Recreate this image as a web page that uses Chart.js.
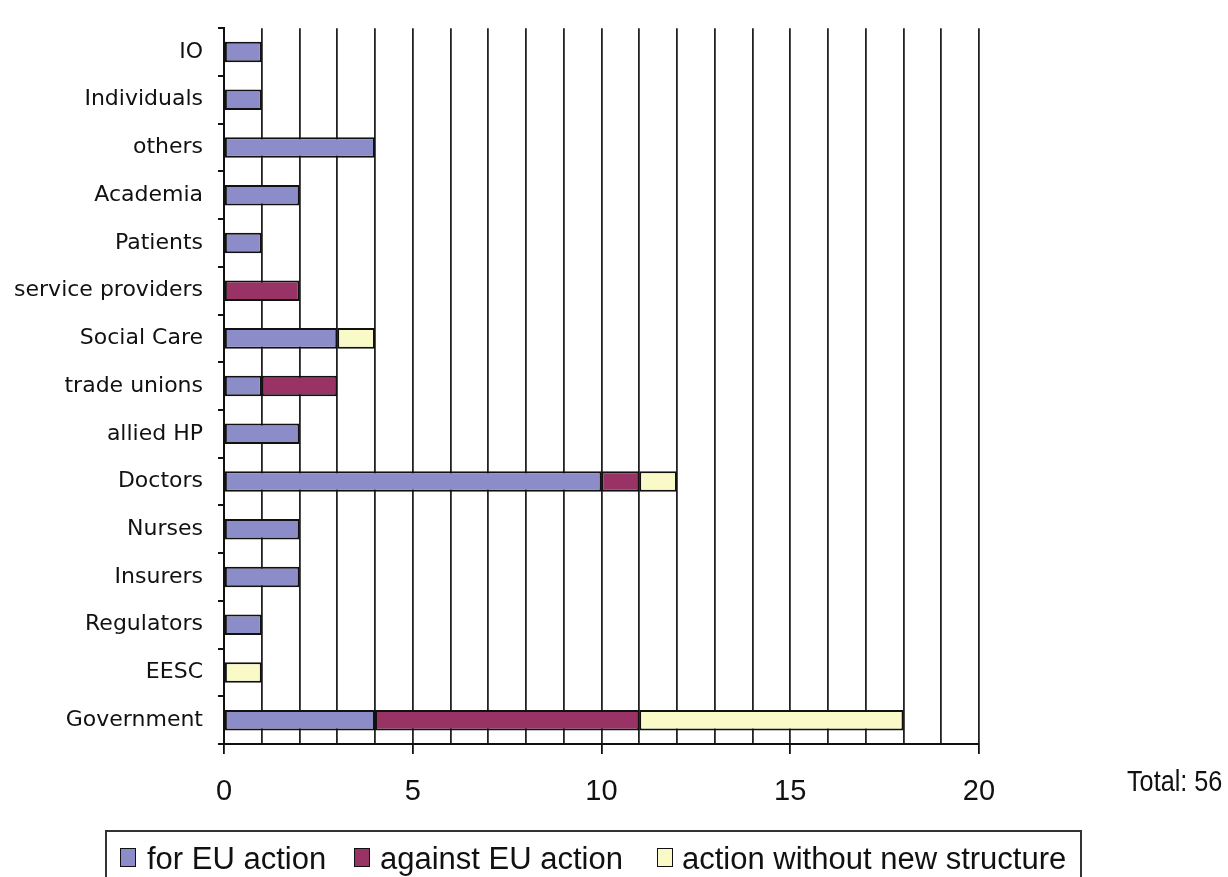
<!DOCTYPE html>
<html>
<head>
<meta charset="utf-8">
<title>Responses by stakeholder group</title>
<script src="https://cdn.jsdelivr.net/npm/chart.js@4/dist/chart.umd.min.js"></script>
<style>
  html, body { margin: 0; padding: 0; background: #fff; }
  body { width: 1228px; height: 877px; position: relative; overflow: hidden; }
  #chartWrap { position: absolute; left: 0; top: 0; width: 1228px; height: 877px; }
  .total {
    position: absolute; left: 1127px; top: 764px;
    font: 29px "Liberation Sans", Arial, sans-serif;
    color: #111; line-height: 34px; white-space: nowrap;
    transform: scaleX(0.87); transform-origin: left center;
  }
  .legend {
    position: absolute; left: 105px; top: 830px; width: 973px; height: 60px;
    border: 2px solid #333; border-bottom: none;
  }
  .legend .swatch {
    position: absolute; top: 16px; width: 14px; height: 17px;
    border: 1.5px solid #111;
  }
  .legend .label {
    position: absolute; top: 11px;
    font: 31px "Liberation Sans", Arial, sans-serif;
    color: #111; line-height: 31px; white-space: nowrap;
  }
</style>
</head>
<body>
<div id="chartWrap"><canvas id="stakeholderChart" width="1228" height="877"></canvas></div>
<div class="total">Total: 56</div>
<div class="legend" id="legend"></div>
<script>
const categories = ['IO', 'Individuals', 'others', 'Academia', 'Patients', 'service providers', 'Social Care',
  'trade unions', 'allied HP', 'Doctors', 'Nurses', 'Insurers', 'Regulators', 'EESC', 'Government'];
const forEuAction = [1, 1, 4, 2, 1, 0, 3, 1, 2, 10, 2, 2, 1, 0, 4];
const againstEuAction = [0, 0, 0, 0, 0, 2, 0, 2, 0, 1, 0, 0, 0, 0, 7];
const withoutNewStructure = [0, 0, 0, 0, 0, 0, 1, 0, 0, 1, 0, 0, 0, 1, 7];
const seriesNames = ['for EU action', 'against EU action', 'action without new structure'];
const seriesColors = ['#8c8cc8', '#993366', '#fafac8'];
const xMin = 0;
const xMax = 20;
const xStep = 1;
const labelEvery = 5;

function byId(id) {
  return document.getElementById(id);
}

function makeDataset(label, values, color) {
  return {
    label,
    // empty segments are left out so no zero-width outline is drawn
    data: values.map((v) => (v ? v : null)),
    backgroundColor: color,
    borderColor: '#111',
    borderWidth: 2,
    borderSkipped: false,
    categoryPercentage: 1,
    barPercentage: 0.43,
  };
}

function buildLegend() {
  const legend = byId('legend');
  const swatchLeft = [13, 247, 550];
  const textLeft = [40, 273, 575];
  seriesNames.forEach((name, i) => {
    const swatch = document.createElement('div');
    swatch.className = 'swatch';
    swatch.style.left = `${swatchLeft[i]}px`;
    swatch.style.background = seriesColors[i];
    legend.appendChild(swatch);

    const text = document.createElement('div');
    text.className = 'label';
    text.style.left = `${textLeft[i]}px`;
    text.textContent = name;
    legend.appendChild(text);
  });
}

function buildChart() {
  const canvas = byId('stakeholderChart');
  return new Chart(canvas, {
    type: 'bar',
    data: {
      labels: categories,
      datasets: [
        makeDataset(seriesNames[0], forEuAction, seriesColors[0]),
        makeDataset(seriesNames[1], againstEuAction, seriesColors[1]),
        makeDataset(seriesNames[2], withoutNewStructure, seriesColors[2]),
      ],
    },
    options: {
      indexAxis: 'y',
      responsive: false,
      animation: false,
      events: [],
      layout: {
        padding: { top: 17, right: 249, left: 0, bottom: 0 },
      },
      plugins: {
        legend: { display: false },
        tooltip: { enabled: false },
      },
      scales: {
        x: {
          stacked: true,
          min: xMin,
          max: xMax,
          afterFit: (scale) => {
            scale.height = 133;
          },
          border: { display: true, color: '#111', width: 2 },
          grid: {
            color: '#222',
            lineWidth: 1.8,
            tickLength: 10,
            tickColor: (ctx) => (ctx.tick && ctx.tick.value % labelEvery === 0 ? '#111' : 'rgba(0,0,0,0)'),
          },
          ticks: {
            stepSize: xStep,
            autoSkip: false,
            maxRotation: 0,
            padding: 21,
            color: '#111',
            font: { family: '"Liberation Sans", Arial, sans-serif', size: 29 },
            callback: (value) => (value % labelEvery === 0 ? String(value) : ''),
          },
        },
        y: {
          stacked: true,
          afterFit: (scale) => {
            scale.width = 224;
          },
          border: { display: true, color: '#111', width: 2 },
          grid: {
            offset: true,
            drawOnChartArea: false,
            tickLength: 6,
            color: '#111',
            lineWidth: 2,
          },
          ticks: {
            autoSkip: false,
            padding: 15,
            color: '#111',
            font: { family: '"DejaVu Sans", Verdana, sans-serif', size: 22 },
          },
        },
      },
    },
  });
}

document.addEventListener('DOMContentLoaded', () => {
  buildLegend();
  buildChart();
});
</script>
</body>
</html>
